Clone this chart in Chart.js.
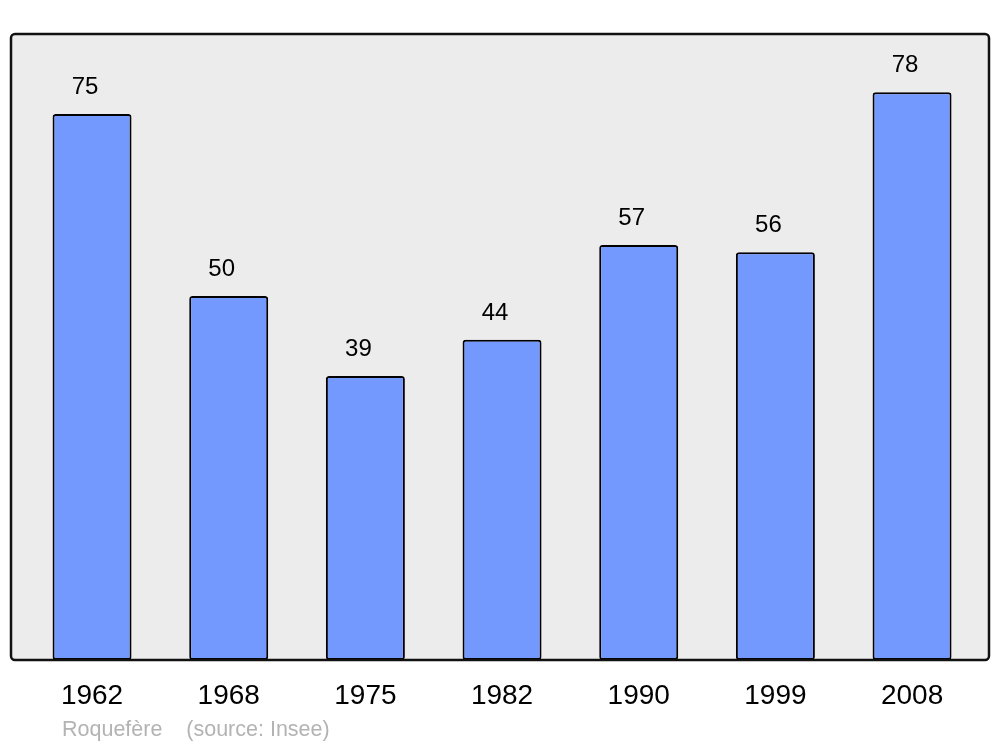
<!DOCTYPE html>
<html>
<head>
<meta charset="utf-8">
<script src="https://cdn.jsdelivr.net/npm/chart.js@4"></script>
<style>
html,body{margin:0;padding:0;background:#fff;}
#wrap{position:relative;width:1000px;height:747px;}
#footer{position:absolute;left:62px;top:717px;font-family:"Liberation Sans",Arial,sans-serif;font-size:21.5px;color:#b3b3b3;white-space:pre;}
</style>
</head>
<body>
<div id="wrap">
<canvas id="c" width="1000" height="747"></canvas>
<div id="footer">Roquefère    (source: Insee)</div>
</div>
<script>
const years = ["1962","1968","1975","1982","1990","1999","2008"];
const population = [75, 50, 39, 44, 57, 56, 78];
const yMax = 86;

const boxPlugin = {
  id: 'box',
  beforeDatasetsDraw(chart) {
    const a = chart.chartArea, ctx = chart.ctx;
    ctx.save();
    ctx.beginPath();
    ctx.roundRect(a.left, a.top, a.right - a.left, a.bottom - a.top, 4);
    ctx.fillStyle = '#ececec';
    ctx.fill();
    ctx.restore();
  },
  afterDatasetsDraw(chart) {
    const a = chart.chartArea, ctx = chart.ctx;
    ctx.save();
    ctx.beginPath();
    ctx.roundRect(a.left, a.top, a.right - a.left, a.bottom - a.top, 4);
    ctx.lineWidth = 2.5;
    ctx.strokeStyle = '#111';
    ctx.stroke();
    const meta = chart.getDatasetMeta(0);
    ctx.font = '24px "Liberation Sans", Arial, sans-serif';
    ctx.fillStyle = '#000';
    ctx.textAlign = 'center';
    ctx.textBaseline = 'alphabetic';
    meta.data.forEach((el, i) => {
      ctx.fillText(String(population[i]), el.x - 7, el.y - 20);
    });
    ctx.restore();
  }
};

new Chart(document.getElementById('c'), {
  type: 'bar',
  data: {
    datasets: [{
      data: population.map((v, i) => ({x: i, y: v})),
      backgroundColor: '#7399ff',
      borderColor: '#000',
      borderWidth: 2,
      borderRadius: 3,
      borderSkipped: false,
      categoryPercentage: 1,
      barPercentage: 0.578
    }]
  },
  options: {
    responsive: false,
    animation: false,
    layout: {padding: {top: 34, left: 11, right: 11, bottom: 0}},
    plugins: {legend: {display: false}, tooltip: {enabled: false}},
    scales: {
      x: {
        type: 'linear',
        offset: false,
        min: -0.593,
        max: 6.563,
        grid: {display: false, drawTicks: false, offset: false},
        border: {display: false},
        afterBuildTicks: s => { s.ticks = years.map((_, i) => ({value: i})); },
        afterFit: s => { s.height = 87; },
        ticks: {
          autoSkip: false,
          maxRotation: 0,
          padding: 19,
          color: '#000',
          font: {family: '"Liberation Sans", Arial, sans-serif', size: 28},
          callback: v => years[v] !== undefined ? years[v] : ''
        }
      },
      y: {
        display: false,
        min: 0,
        max: yMax
      }
    }
  },
  plugins: [boxPlugin]
});
</script>
</body>
</html>
